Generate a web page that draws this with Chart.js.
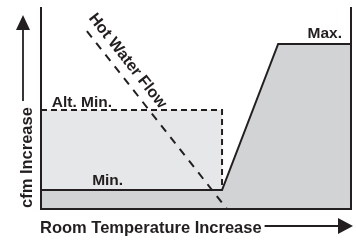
<!DOCTYPE html>
<html>
<head>
<meta charset="utf-8">
<script src="https://cdn.jsdelivr.net/npm/chart.js@4"></script>
<style>
html,body{margin:0;padding:0;background:#fff;}
canvas{display:block;}
</style>
</head>
<body>
<canvas id="c" width="356" height="242"></canvas>
<script>
// ---- data (schematic units 0..100) ----
const cfmX = [0, 58.4, 76.5, 100];          // cfm curve (Min -> Max)
const cfmY = [9.4, 9.4, 81.7, 81.7];
const altX = [0, 58.4, 58.4];                // Alt. Min. setting
const altY = [49, 49, 9.4];
const hwX = [14.8, 60.0];                    // Hot Water Flow
const hwY = [88.1, 0];
const textLabels = ['Max.', 'Alt. Min.', 'Min.', 'Hot Water Flow'];
const labelX = [97.1, 3.5, 16.5, 27.9];
const labelY = [84.7, 50.5, 11.9, 73.3];
const xTitle = 'Room Temperature Increase';
const yTitle = 'cfm Increase';

const pts = (xs, ys) => xs.map((x, i) => ({x, y: ys[i]}));
const INK = '#231f20';
const FONT = 'bold 15.5px "Liberation Sans", Arial, sans-serif';
const HFONT = 'bold 16px "Liberation Sans", Arial, sans-serif';
const TFONT = 'bold 16.5px "Liberation Sans", Arial, sans-serif';

const deco = {
  id: 'deco',
  afterDatasetsDraw(chart) {
    const {ctx, chartArea: a, scales: {x, y}} = chart;
    ctx.save();
    ctx.strokeStyle = INK; ctx.fillStyle = INK;
    // frame: left, bottom, right
    ctx.lineWidth = 2;
    ctx.beginPath();
    ctx.moveTo(a.left, a.top); ctx.lineTo(a.left, a.bottom);
    ctx.lineTo(a.right, a.bottom); ctx.lineTo(a.right, a.top);
    ctx.stroke();
    // labels
    ctx.font = FONT;
    ctx.textBaseline = 'alphabetic';
    ctx.textAlign = 'right';
    ctx.fillText(textLabels[0], x.getPixelForValue(labelX[0]), y.getPixelForValue(labelY[0]));
    ctx.textAlign = 'left';
    ctx.fillText(textLabels[1], x.getPixelForValue(labelX[1]), y.getPixelForValue(labelY[1]));
    ctx.fillText(textLabels[2], x.getPixelForValue(labelX[2]), y.getPixelForValue(labelY[2]));
    // rotated Hot Water Flow
    const px0 = x.getPixelForValue(hwX[0]), py0 = y.getPixelForValue(hwY[0]);
    const px1 = x.getPixelForValue(hwX[1]), py1 = y.getPixelForValue(hwY[1]);
    const ang = Math.atan2(py1 - py0, px1 - px0);
    ctx.save();
    ctx.font = HFONT;
    ctx.translate(x.getPixelForValue(labelX[3]), y.getPixelForValue(labelY[3]));
    ctx.rotate(ang);
    ctx.textAlign = 'center'; ctx.textBaseline = 'middle';
    ctx.fillText(textLabels[3], 0, 0);
    ctx.restore();
    // x title + arrow
    ctx.font = TFONT;
    ctx.textAlign = 'left'; ctx.textBaseline = 'alphabetic';
    const tx = a.left - 1, ty = a.bottom + 24;
    ctx.fillText(xTitle, tx, ty);
    const tw = ctx.measureText(xTitle).width;
    const ay = a.bottom + 17;
    ctx.lineWidth = 1.8;
    ctx.beginPath(); ctx.moveTo(tx + tw + 3, ay); ctx.lineTo(a.right - 12, ay); ctx.stroke();
    ctx.beginPath();
    ctx.moveTo(a.right + 2, ay); ctx.lineTo(a.right - 13, ay - 8); ctx.lineTo(a.right - 13, ay + 8);
    ctx.closePath(); ctx.fill();
    // y title + arrow
    ctx.save();
    ctx.translate(a.left - 9, a.bottom - 1);
    ctx.rotate(-Math.PI / 2);
    ctx.fillText(yTitle, 0, 0);
    const yw = ctx.measureText(yTitle).width;
    ctx.restore();
    const ax = a.left - 18;
    ctx.beginPath(); ctx.moveTo(ax, a.bottom - 1 - yw - 6); ctx.lineTo(ax, a.top + 20); ctx.stroke();
    ctx.beginPath();
    ctx.moveTo(ax, a.top + 8); ctx.lineTo(ax - 7, a.top + 23); ctx.lineTo(ax + 7, a.top + 23);
    ctx.closePath(); ctx.fill();
    ctx.restore();
  }
};

new Chart(document.getElementById('c'), {
  type: 'line',
  data: {
    datasets: [
      { data: pts(hwX, hwY), borderColor: INK, borderWidth: 2, borderDash: [8, 7],
        fill: false, pointRadius: 0, order: 0 },
      { data: pts(cfmX, cfmY), borderColor: INK, borderWidth: 2,
        backgroundColor: '#d1d3d4', fill: 'origin', pointRadius: 0, order: 1 },
      { data: pts(altX, altY), borderColor: INK, borderWidth: 2, borderDash: [6, 4],
        backgroundColor: '#e6e7e8', fill: 'origin', pointRadius: 0, order: 2 }
    ]
  },
  options: {
    responsive: false,
    devicePixelRatio: 1,
    animation: false,
    layout: { padding: { left: 41, top: 7, right: 5, bottom: 33 } },
    scales: {
      x: { type: 'linear', min: 0, max: 100, display: false },
      y: { type: 'linear', min: 0, max: 100, display: false }
    },
    plugins: { legend: { display: false }, tooltip: { enabled: false } },
    elements: { line: { tension: 0 } }
  },
  plugins: [deco]
});
</script>
</body>
</html>
